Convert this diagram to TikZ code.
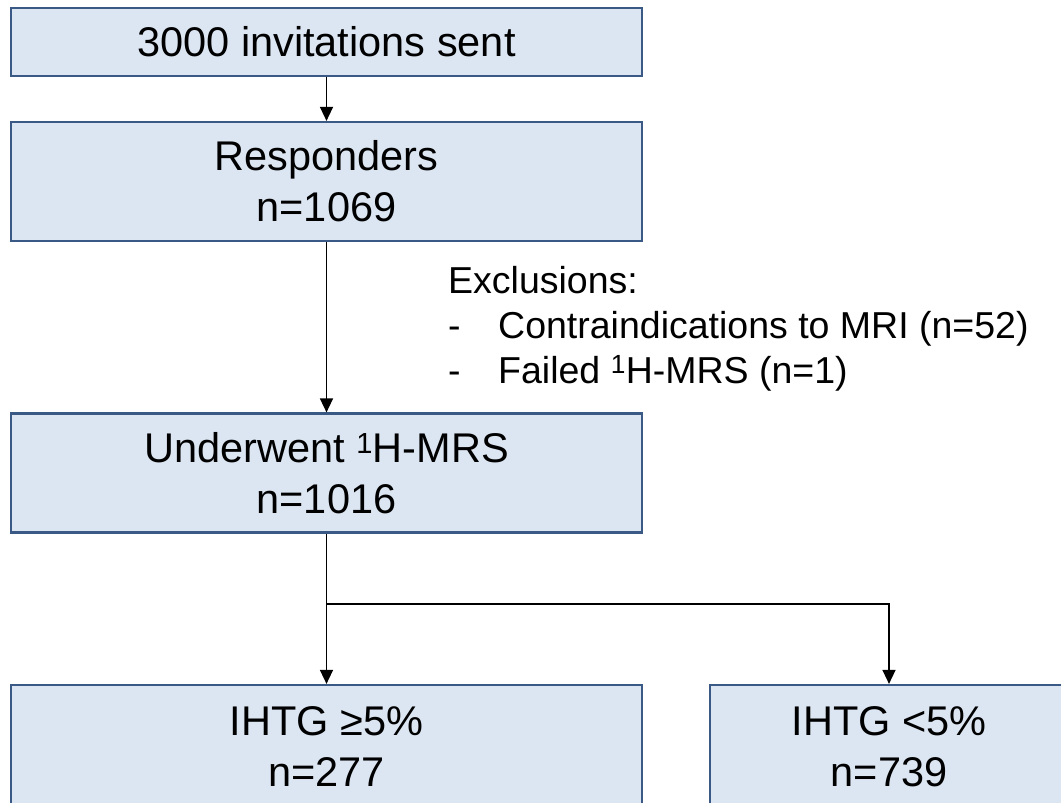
\documentclass[tikz,border=0pt]{standalone}
\usepackage{fontspec}
\setmainfont{Liberation Sans}
\usetikzlibrary{arrows.meta}
\definecolor{boxfill}{HTML}{DCE6F2}
\definecolor{boxline}{HTML}{3A5A85}
\tikzset{
  flowbox/.style={draw=boxline, fill=boxfill, line width=2.2pt, inner sep=0pt,
    align=center, font=\fontsize{41.5}{51}\selectfont},
  conn/.style={line width=1.5pt, draw=black},
  arr/.style={conn, -{Triangle[length=14pt,width=13pt]}},
  excltext/.style={anchor=base west, inner sep=0pt, font=\fontsize{37.5}{45}\selectfont}
}
\begin{document}
\begin{tikzpicture}[x=1pt,y=-1pt]
\useasboundingbox (0,0) rectangle (1061,803);
\clip (0,0) rectangle (1061,803);
\node[flowbox, minimum width=631pt, minimum height=68pt] (b1) at (326.5,42) {3000 invitations sent};
\node[flowbox, minimum width=631pt, minimum height=119pt] (b2) at (326.5,181.5) {Responders\\n=1069};
\node[flowbox, minimum width=631pt, minimum height=119pt] (b3) at (326.5,473) {Underwent \textsuperscript{1}H-MRS\\n=1016};
\node[flowbox, minimum width=631pt, minimum height=124pt] (b4) at (326.5,747) {IHTG ≥5\%\\n=277};
\node[flowbox, minimum width=358pt, minimum height=124pt] (b5) at (889,747) {IHTG <5\%\\n=739};
\node[excltext] (ex0) at (448,293) {Exclusions:};
\node[excltext] (ex1) at (448,338) {\makebox[50pt][l]{-}Contraindications to MRI (n=52)};
\node[excltext] (ex2) at (448,383) {\makebox[50pt][l]{-}Failed \textsuperscript{1}H-MRS (n=1)};
\coordinate (split) at (326.5,604);
\coordinate (split2) at (889,604);
\draw[arr] (b1.south) -- (b2.north);
\draw[arr] (b2.south) -- (b3.north);
\draw[conn] (b3.south) -- (split);
\draw[arr] (split) -- (b4.north);
\draw[arr] (split) -- (split2) -- (b5.north);
\end{tikzpicture}
\end{document}
